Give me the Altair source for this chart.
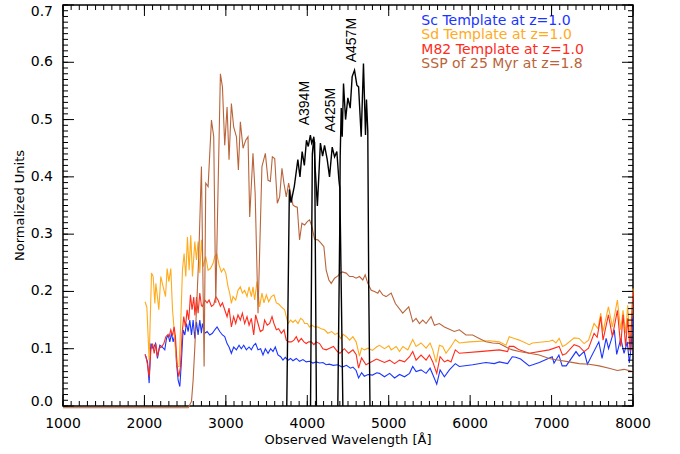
import altair as alt
import pandas as pd

# ---------------- data ----------------
sc_wave = [2008, 2038, 2058, 2079, 2107, 2136, 2160, 2189, 2218, 2250, 2271, 2291, 2312, 2332, 2353, 2373,
           2394, 2414, 2435, 2455, 2475, 2496, 2516, 2537, 2557, 2578, 2598, 2619, 2639, 2659, 2680, 2700,
           2712, 2741, 2770, 2802, 2835, 2864, 2892, 2925, 2958, 2986, 3015, 3039, 3068, 3096, 3130, 3162,
           3190, 3219, 3252, 3285, 3313, 3342, 3366, 3395, 3427, 3456, 3485, 3518, 3550, 3579, 3607, 3640,
           3673, 3701, 3730, 3763, 3795, 3824, 3865, 3905, 3947, 3987, 4028, 4069, 4110, 4151, 4192, 4232,
           4268, 4320, 4374, 4430, 4481, 4530, 4561, 4600, 4630, 4667, 4700, 4747, 4800, 4854, 4886, 4948,
           5011, 5072, 5133, 5194, 5256, 5295, 5336, 5397, 5459, 5508, 5541, 5590, 5631, 5684, 5745, 5818,
           5867, 6031, 6194, 6296, 6358, 6460, 6517, 6560, 6620, 6725, 6850, 7008, 7030, 7090, 7130, 7180,
           7300, 7340, 7400, 7440, 7580, 7620, 7670, 7700, 7770, 7800, 7850, 7890, 7930, 7955, 7975, 8000]
sc_flux = [0.090, 0.077, 0.040, 0.109, 0.100, 0.109, 0.083, 0.106, 0.103, 0.098, 0.118, 0.124, 0.112, 0.127, 0.112, 0.124,
           0.075, 0.045, 0.034, 0.080, 0.133, 0.124, 0.144, 0.130, 0.150, 0.124, 0.150, 0.118, 0.147, 0.124, 0.150, 0.127,
           0.144, 0.127, 0.130, 0.124, 0.127, 0.133, 0.138, 0.130, 0.124, 0.121, 0.109, 0.103, 0.092, 0.103, 0.098, 0.106,
           0.100, 0.106, 0.098, 0.103, 0.098, 0.106, 0.109, 0.098, 0.100, 0.089, 0.100, 0.092, 0.100, 0.095, 0.103, 0.089,
           0.086, 0.080, 0.085, 0.080, 0.083, 0.079, 0.083, 0.078, 0.081, 0.077, 0.078, 0.075, 0.077, 0.075, 0.076, 0.072,
           0.073, 0.071, 0.072, 0.068, 0.071, 0.066, 0.068, 0.062, 0.049, 0.058, 0.052, 0.055, 0.054, 0.058, 0.057, 0.051,
           0.057, 0.049, 0.055, 0.051, 0.057, 0.069, 0.060, 0.063, 0.057, 0.066, 0.055, 0.038, 0.063, 0.051, 0.063, 0.074,
           0.069, 0.072, 0.076, 0.074, 0.077, 0.074, 0.086, 0.085, 0.082, 0.070, 0.076, 0.086, 0.075, 0.089, 0.070, 0.070,
           0.095, 0.087, 0.095, 0.073, 0.112, 0.083, 0.118, 0.100, 0.133, 0.090, 0.118, 0.092, 0.112, 0.075, 0.100, 0.155]

sd_wave = [2008, 2030, 2058, 2087, 2107, 2128, 2140, 2160, 2177, 2201, 2230, 2259, 2279, 2300, 2324, 2345,
           2365, 2385, 2406, 2426, 2447, 2467, 2487, 2508, 2528, 2549, 2569, 2590, 2619, 2639, 2659, 2680,
           2700, 2720, 2753, 2782, 2811, 2843, 2864, 2890, 2917, 2945, 2974, 2999, 3027, 3047, 3068, 3088,
           3121, 3149, 3178, 3203, 3231, 3260, 3285, 3313, 3334, 3354, 3382, 3415, 3443, 3468, 3497, 3526,
           3559, 3591, 3620, 3648, 3681, 3722, 3742, 3763, 3795, 3824, 3853, 3886, 3918, 3947, 3967, 4000,
           4028, 4057, 4090, 4130, 4171, 4212, 4253, 4300, 4340, 4374, 4410, 4440, 4480, 4520, 4560, 4600,
           4641, 4667, 4700, 4747, 4800, 4850, 4886, 4948, 5002, 5030, 5092, 5133, 5174, 5235, 5295, 5336,
           5397, 5459, 5508, 5541, 5582, 5622, 5663, 5704, 5765, 5818, 5867, 5990, 6235, 6358, 6440, 6480,
           6542, 6603, 6725, 6766, 6971, 7012, 7053, 7093, 7134, 7175, 7277, 7338, 7400, 7454, 7522, 7570,
           7604, 7632, 7698, 7747, 7808, 7849, 7878, 7910, 7935, 7965, 8000]
sd_flux = [0.182, 0.172, 0.080, 0.232, 0.226, 0.179, 0.214, 0.190, 0.168, 0.226, 0.208, 0.191, 0.240, 0.217, 0.240, 0.168,
           0.133, 0.092, 0.069, 0.069, 0.150, 0.237, 0.266, 0.226, 0.295, 0.237, 0.298, 0.226, 0.287, 0.255, 0.287, 0.232,
           0.290, 0.243, 0.261, 0.237, 0.240, 0.249, 0.261, 0.265, 0.246, 0.234, 0.240, 0.232, 0.208, 0.197, 0.179, 0.191,
           0.185, 0.202, 0.208, 0.197, 0.202, 0.191, 0.208, 0.191, 0.208, 0.185, 0.217, 0.173, 0.197, 0.180, 0.194, 0.182,
           0.191, 0.194, 0.180, 0.178, 0.173, 0.168, 0.156, 0.144, 0.150, 0.146, 0.150, 0.144, 0.153, 0.150, 0.144, 0.144,
           0.138, 0.141, 0.138, 0.138, 0.135, 0.133, 0.127, 0.130, 0.125, 0.127, 0.118, 0.125, 0.121, 0.115, 0.121, 0.112,
           0.087, 0.101, 0.098, 0.101, 0.097, 0.103, 0.106, 0.100, 0.105, 0.098, 0.104, 0.095, 0.104, 0.098, 0.116, 0.104,
           0.110, 0.101, 0.110, 0.098, 0.076, 0.106, 0.104, 0.092, 0.104, 0.116, 0.110, 0.112, 0.114, 0.112, 0.106, 0.121,
           0.118, 0.115, 0.107, 0.110, 0.113, 0.115, 0.110, 0.118, 0.104, 0.107, 0.119, 0.118, 0.109, 0.115, 0.144, 0.135,
           0.162, 0.130, 0.173, 0.138, 0.185, 0.133, 0.167, 0.127, 0.176, 0.107, 0.205]

m82_wave = [2008, 2018, 2038, 2058, 2079, 2099, 2120, 2140, 2160, 2181, 2210, 2238, 2263, 2283, 2304, 2324,
            2345, 2365, 2381, 2402, 2422, 2443, 2463, 2483, 2504, 2524, 2545, 2565, 2585, 2606, 2620, 2640,
            2659, 2680, 2700, 2712, 2741, 2770, 2794, 2823, 2851, 2876, 2904, 2933, 2958, 2986, 3015, 3039,
            3068, 3096, 3121, 3149, 3178, 3203, 3231, 3260, 3285, 3313, 3342, 3366, 3395, 3423, 3456, 3476,
            3508, 3538, 3567, 3591, 3620, 3648, 3681, 3714, 3742, 3771, 3804, 3836, 3865, 3893, 3926, 3959,
            3987, 4016, 4049, 4081, 4110, 4151, 4192, 4232, 4261, 4321, 4370, 4401, 4454, 4508, 4561, 4600,
            4630, 4667, 4721, 4801, 4850, 4886, 4948, 5011, 5072, 5133, 5194, 5256, 5295, 5336, 5397, 5459,
            5500, 5541, 5590, 5631, 5684, 5725, 5765, 5818, 5867, 6112, 6358, 6460, 6480, 6535, 6603, 6725,
            6971, 7093, 7134, 7175, 7277, 7338, 7400, 7454, 7522, 7560, 7604, 7632, 7698, 7747, 7808, 7849,
            7878, 7910, 7935, 7965, 8000]
m82_flux = [0.090, 0.086, 0.072, 0.051, 0.098, 0.109, 0.092, 0.109, 0.086, 0.101, 0.103, 0.109, 0.121, 0.124, 0.121, 0.133,
            0.123, 0.138, 0.121, 0.069, 0.051, 0.069, 0.127, 0.156, 0.138, 0.168, 0.150, 0.194, 0.168, 0.190, 0.158, 0.190,
            0.162, 0.197, 0.175, 0.174, 0.185, 0.180, 0.185, 0.174, 0.177, 0.191, 0.185, 0.174, 0.180, 0.168, 0.156, 0.171,
            0.138, 0.156, 0.144, 0.159, 0.150, 0.162, 0.144, 0.156, 0.141, 0.153, 0.124, 0.159, 0.144, 0.130, 0.133, 0.150,
            0.141, 0.144, 0.156, 0.144, 0.133, 0.135, 0.127, 0.133, 0.115, 0.112, 0.112, 0.115, 0.121, 0.112, 0.118, 0.112,
            0.109, 0.112, 0.112, 0.107, 0.112, 0.109, 0.100, 0.098, 0.100, 0.104, 0.095, 0.092, 0.100, 0.092, 0.098, 0.090,
            0.066, 0.084, 0.072, 0.078, 0.082, 0.080, 0.076, 0.080, 0.074, 0.080, 0.077, 0.086, 0.095, 0.080, 0.089, 0.080,
            0.089, 0.077, 0.057, 0.086, 0.077, 0.080, 0.077, 0.098, 0.092, 0.095, 0.098, 0.095, 0.104, 0.104, 0.098, 0.092,
            0.098, 0.104, 0.089, 0.091, 0.107, 0.104, 0.095, 0.101, 0.127, 0.120, 0.156, 0.115, 0.159, 0.121, 0.167, 0.104,
            0.159, 0.104, 0.153, 0.095, 0.199]

ssp_wave = [1000, 2537, 2578, 2598, 2619, 2639, 2667, 2700, 2733, 2753, 2782, 2823, 2851, 2876, 2933, 2958,
            2986, 3015, 3039, 3068, 3096, 3130, 3154, 3178, 3211, 3244, 3272, 3293, 3333, 3360, 3395, 3443,
            3485, 3518, 3546, 3571, 3600, 3632, 3660, 3689, 3713, 3742, 3771, 3795, 3824, 3853, 3877, 3905,
            3934, 3967, 4000, 4028, 4057, 4090, 4130, 4171, 4204, 4232, 4265, 4294, 4335, 4375, 4405, 4429,
            4478, 4519, 4560, 4600, 4641, 4682, 4711, 4743, 4785, 4825, 4866, 4886, 4927, 4968, 5030, 5082,
            5172, 5246, 5295, 5336, 5377, 5418, 5459, 5520, 5561, 5622, 5684, 5806, 5867, 5949, 6031, 6112,
            6194, 6276, 6358, 6440, 6480, 6521, 6603, 6725, 6848, 6971, 7093, 7216, 7338, 7461, 7584, 7706,
            7808, 7890, 8000]
ssp_flux = [-0.003, -0.003, 0.008, 0.045, 0.103, 0.168, 0.260, 0.418, 0.069, 0.389, 0.383, 0.499, 0.470, 0.180, 0.580, 0.557,
            0.455, 0.522, 0.430, 0.528, 0.487, 0.470, 0.412, 0.496, 0.450, 0.464, 0.470, 0.330, 0.441, 0.370, 0.162, 0.418,
            0.441, 0.394, 0.392, 0.435, 0.432, 0.354, 0.365, 0.415, 0.389, 0.365, 0.389, 0.371, 0.351, 0.348, 0.347, 0.290,
            0.319, 0.316, 0.322, 0.325, 0.313, 0.291, 0.290, 0.284, 0.278, 0.237, 0.220, 0.214, 0.223, 0.227, 0.232, 0.234,
            0.232, 0.226, 0.226, 0.223, 0.226, 0.220, 0.229, 0.214, 0.202, 0.200, 0.197, 0.202, 0.194, 0.191, 0.197, 0.179,
            0.162, 0.173, 0.147, 0.153, 0.144, 0.150, 0.144, 0.156, 0.141, 0.144, 0.138, 0.130, 0.133, 0.124, 0.124, 0.118,
            0.112, 0.110, 0.109, 0.103, 0.100, 0.098, 0.095, 0.092, 0.089, 0.083, 0.080, 0.077, 0.074, 0.073, 0.070, 0.066,
            0.062, 0.064, 0.060]

a394_wave = [3748, 3780, 3800, 3841, 3884, 3910, 3937, 3964, 3990, 4012, 4038, 4054, 4076, 4090, 4100, 4112]
a394_flux = [0.0, 0.378, 0.355, 0.384, 0.430, 0.400, 0.444, 0.420, 0.464, 0.453, 0.473, 0.459, 0.467, 0.460, 0.250, 0.0]
a425_wave = [4040, 4062, 4080, 4095, 4124, 4161, 4188, 4212, 4245, 4273, 4306, 4335, 4363, 4388, 4400, 4437]
a425_flux = [0.0, 0.440, 0.470, 0.420, 0.349, 0.459, 0.436, 0.455, 0.430, 0.400, 0.452, 0.435, 0.444, 0.395, 0.380, 0.0]
a457_wave = [4375, 4398, 4404, 4417, 4429, 4445, 4470, 4498, 4527, 4551, 4580, 4609, 4630, 4662, 4690, 4715,
             4727, 4743, 4755, 4770]
a457_flux = [0.0, 0.300, 0.435, 0.520, 0.470, 0.563, 0.500, 0.538, 0.520, 0.575, 0.586, 0.560, 0.557, 0.470, 0.598, 0.473,
             0.535, 0.480, 0.200, 0.0]

band_names = ["A394M", "A425M", "A457M"]
band_label_wave = [3967, 4294, 4552]
band_label_flux = [0.490, 0.478, 0.600]

legend_text = ["Sc Template at z=1.0", "Sd Template at z=1.0", "M82 Template at z=1.0", "SSP of 25 Myr at z=1.8"]
legend_colors = ["#1a35ff", "#ffab1c", "#ff2b1c", "#b9643a"]
legend_wave = [5401, 5401, 5401, 5401]
legend_flux = [0.672, 0.647, 0.622, 0.597]

x_major = list(range(1000, 8001, 1000))
x_labels = [str(v) for v in x_major]
x_minor = list(range(1000, 8001, 100))
y_major = [round(i * 0.1, 1) for i in range(8)]
y_labels = ["%.1f" % v for v in y_major]
y_minor = [round(i * 0.01, 2) for i in range(71)]
x_title = "Observed Wavelength [Å]"
y_title = "Normalized Units"

# ---------------- chart ----------------
W, H = 570, 401
X_LO, X_HI, Y_LO, Y_HI = 1000, 8000, 0.0, 0.7
xs = alt.Scale(domain=[X_LO, X_HI], nice=False, zero=False)
ys = alt.Scale(domain=[Y_LO, Y_HI], nice=False, zero=False)
FONT = "DejaVu Sans"


def XE(field):
    return alt.X(field, scale=xs, axis=None)


def YE(field):
    return alt.Y(field, scale=ys, axis=None)


def line_layer(wave, flux, color, width=1.1):
    df = pd.DataFrame({"wave": wave, "flux": flux})
    return alt.Chart(df).mark_line(color=color, strokeWidth=width, clip=False).encode(
        x=XE("wave:Q"), y=YE("flux:Q"))


bands = pd.DataFrame({
    "wave": a394_wave + a425_wave + a457_wave,
    "flux": a394_flux + a425_flux + a457_flux,
    "band": [band_names[0]] * len(a394_wave) + [band_names[1]] * len(a425_wave) + [band_names[2]] * len(a457_wave),
})
band_layer = alt.Chart(bands).mark_line(color="black", strokeWidth=1.4).encode(
    x=XE("wave:Q"), y=YE("flux:Q"), detail="band:N")

band_labels = alt.Chart(pd.DataFrame({"wave": band_label_wave, "flux": band_label_flux, "t": band_names})).mark_text(
    angle=270, align="left", baseline="middle", font="Liberation Sans", fontSize=14, color="black"
).encode(x=XE("wave:Q"), y=YE("flux:Q"), text="t:N")

legend = alt.Chart(pd.DataFrame({"wave": legend_wave, "flux": legend_flux, "t": legend_text, "c": legend_colors})).mark_text(
    align="left", baseline="middle", font=FONT, fontSize=14
).encode(x=XE("wave:Q"), y=YE("flux:Q"), text="t:N", color=alt.Color("c:N", scale=None))

# inward tick marks on all four sides, drawn as short two-point line segments
px_x = (X_HI - X_LO) / W
px_y = (Y_HI - Y_LO) / H
tick_rows = []
tid = 0
for vals, length in ((x_minor, 5), (x_major, 11)):
    for v in vals:
        for base, sign in ((Y_LO, 1), (Y_HI, -1)):
            tick_rows.append({"id": tid, "wave": v, "flux": base})
            tick_rows.append({"id": tid, "wave": v, "flux": base + sign * length * px_y})
            tid += 1
for vals, length in ((y_minor, 5), (y_major, 11)):
    for v in vals:
        for base, sign in ((X_LO, 1), (X_HI, -1)):
            tick_rows.append({"id": tid, "wave": base, "flux": v})
            tick_rows.append({"id": tid, "wave": base + sign * length * px_x, "flux": v})
            tid += 1
tick_layer = alt.Chart(pd.DataFrame(tick_rows)).mark_line(color="black", strokeWidth=1, clip=False).encode(
    x=XE("wave:Q"), y=YE("flux:Q"), detail="id:N")

# tick labels and axis titles drawn as text marks
xlab = alt.Chart(pd.DataFrame({"t": x_major, "s": x_labels})).mark_text(
    align="center", baseline="top", font=FONT, fontSize=14, color="black"
).encode(x=XE("t:Q"), y=alt.value(H + 11), text="s:N")

ylab_df = pd.DataFrame({"t": y_major, "s": y_labels})
ylab_mid = alt.Chart(ylab_df.iloc[1:-1]).mark_text(
    align="right", baseline="middle", font=FONT, fontSize=14, color="black"
).encode(y=YE("t:Q"), x=alt.value(-10), text="s:N")
ylab_bot = alt.Chart(ylab_df.iloc[:1]).mark_text(
    align="right", baseline="alphabetic", font=FONT, fontSize=14, color="black"
).encode(y=YE("t:Q"), x=alt.value(-10), text="s:N")
ylab_top = alt.Chart(ylab_df.iloc[-1:]).mark_text(
    align="right", baseline="top", font=FONT, fontSize=14, color="black"
).encode(y=YE("t:Q"), x=alt.value(-10), text="s:N")

xtitle = alt.Chart(pd.DataFrame({"s": [x_title]})).mark_text(
    align="center", baseline="middle", font=FONT, fontSize=13, color="black"
).encode(x=alt.value(W / 2), y=alt.value(H + 34), text="s:N")
ytitle = alt.Chart(pd.DataFrame({"s": [y_title]})).mark_text(
    align="center", baseline="middle", angle=270, font=FONT, fontSize=13, color="black"
).encode(x=alt.value(-43), y=alt.value(H / 2), text="s:N")

chart = alt.layer(
    line_layer(sc_wave, sc_flux, legend_colors[0]),
    line_layer(sd_wave, sd_flux, legend_colors[1]),
    line_layer(m82_wave, m82_flux, legend_colors[2]),
    line_layer(ssp_wave, ssp_flux, legend_colors[3]),
    band_layer,
    band_labels,
    legend,
    tick_layer,
    xlab, ylab_mid, ylab_bot, ylab_top, xtitle, ytitle,
).properties(
    width=W, height=H,
    autosize=alt.AutoSizeParams(type="none"),
    padding={"left": 63, "top": 5, "right": 47, "bottom": 48},
).configure_view(
    stroke="black", strokeWidth=1.5
)

chart.save("out.html", embed_options={"renderer": "svg", "actions": False})
